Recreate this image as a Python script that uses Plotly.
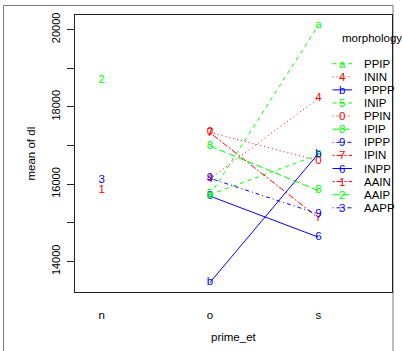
import plotly.graph_objects as go

# ---------------- data ----------------
categories = ["n", "o", "s"]
series_names = ["AAIN", "AAIP", "AAPP", "ININ", "INIP", "INPP",
                "IPIN", "IPIP", "IPPP", "PPIN", "PPIP", "PPPP"]
series_symbols = ["1", "2", "3", "4", "5", "6", "7", "8", "9", "0", "a", "b"]

# mean of dl at n, o, s  (None = no observation)
AAIN = [15852, None, None]
AAIP = [18683, None, None]
AAPP = [16111, None, None]
ININ = [None, 16140, 18218]
INIP = [None, 15730, 16760]
INPP = [None, 15690, 14629]
IPIN = [None, 17330, 15128]
IPIP = [None, 16987, 15833]
IPPP = [None, 16153, 15231]
PPIN = [None, 17341, 16607]
PPIP = [None, 15720, 20111]
PPPP = [None, 13457, 16790]
series_values = [AAIN, AAIP, AAPP, ININ, INIP, INPP,
                 IPIN, IPIP, IPPP, PPIN, PPIP, PPPP]

legend_title = "morphology"
y_ticks = [14000, 16000, 18000, 20000]
y_title = "mean of dl"
x_title = "prime_et"

# ---------------- styles ----------------
palette = ["#FF0000", "#00FF00", "#0000FF"]
# R lty patterns: 1 solid, 2 dashed, 3 dotted, 4 dotdash, 5 longdash, 6 twodash
lty_dash = {1: "solid", 2: "4px,4px", 3: "1px,3px", 4: "1px,3px,4px,3px",
            5: "7px,3px", 6: "2px,2px,6px,2px"}
n_series = len(series_names)
styles = {}
for i, name in enumerate(series_names):
    lty = n_series - i
    lty = (lty - 1) % 6 + 1
    styles[name] = dict(color=palette[i % 3], dash=lty_dash[lty],
                        sym=series_symbols[i])

FONT = "Liberation Sans, Arial, Helvetica, sans-serif"
xpos = [i + 1 for i in range(len(categories))]

fig = go.Figure()
for name, vals in zip(series_names, series_values):
    st = styles[name]
    fig.add_trace(go.Scatter(
        x=xpos, y=vals, mode="lines+text",
        text=[st["sym"]] * len(vals), textposition="middle center",
        textfont=dict(color=st["color"], size=11.5, family=FONT),
        line=dict(color=st["color"], width=1, dash=st["dash"]),
        name=name, showlegend=False, cliponaxis=False, connectgaps=False))

# ---------------- layout geometry ----------------
W, H = 402, 351
L, R, T, B = 75, 10, 15, 59
pw, ph = W - L - R, H - T - B

def px_x(x):
    return (x - L) / pw

def px_y(y):
    return (H - B - y) / ph

# legend (drawn inside the plot box like R's interaction.plot)
legend_order = sorted(
    series_names,
    key=lambda n: (series_values[series_names.index(n)][-1] is None,
                   -(series_values[series_names.index(n)][-1] or 0)))
shapes = []
annotations = []
row0, row_h = 63.7, 13.1
for k, name in enumerate(legend_order):
    st = styles[name]
    yy = px_y(row0 + k * row_h)
    shapes.append(dict(type="line", xref="paper", yref="paper",
                       x0=px_x(332.5), x1=px_x(352), y0=yy, y1=yy,
                       line=dict(color=st["color"], width=1, dash=st["dash"])))
    annotations.append(dict(xref="paper", yref="paper", x=px_x(342.3), y=yy,
                            text=st["sym"], showarrow=False,
                            xanchor="center", yanchor="middle",
                            font=dict(color=st["color"], size=11.5, family=FONT)))
    annotations.append(dict(xref="paper", yref="paper", x=px_x(362), y=yy,
                            text=name, showarrow=False,
                            xanchor="left", yanchor="middle",
                            font=dict(color="black", size=11.5, family=FONT)))
annotations.append(dict(xref="paper", yref="paper", x=px_x(339.5), y=px_y(37.7),
                        text=legend_title, showarrow=False,
                        xanchor="left", yanchor="middle",
                        font=dict(color="black", size=11.5, family=FONT)))
# axis titles
annotations.append(dict(xref="paper", yref="paper", x=px_x(30), y=0.5,
                        text=y_title, textangle=-90, showarrow=False,
                        xanchor="center", yanchor="middle",
                        font=dict(color="black", size=11.5, family=FONT)))
annotations.append(dict(xref="paper", yref="paper", x=0.5, y=px_y(337),
                        text=x_title, showarrow=False,
                        xanchor="center", yanchor="middle",
                        font=dict(color="black", size=11.5, family=FONT)))
# outer frame
shapes.append(dict(type="rect", xref="paper", yref="paper",
                   x0=px_x(3.5), x1=px_x(393), y0=px_y(5.5), y1=px_y(360),
                   line=dict(color="#777777", width=1), layer="below"))

fig.update_layout(
    width=W, height=H, autosize=False,
    margin=dict(l=L, r=R, t=T, b=B, pad=0),
    paper_bgcolor="white", plot_bgcolor="white",
    font=dict(family=FONT, color="black", size=11),
    shapes=shapes, annotations=annotations,
    xaxis=dict(range=[0.7535, 3.68], tickvals=xpos, ticktext=categories,
               ticks="", showgrid=False, zeroline=False,
               showline=True, mirror=True, linecolor="#222222", linewidth=1,
               tickfont=dict(size=11.5, family=FONT, color="black"),
               ticklabelstandoff=12),
    yaxis=dict(range=[13210, 20377], tickvals=y_ticks,
               ticktext=[str(v) for v in y_ticks], tickangle=-90,
               ticks="outside", ticklen=7, tickcolor="#222222", tickwidth=1,
               minor=dict(dtick=1000, tick0=0, ticks="outside", ticklen=7,
                          tickcolor="#222222", tickwidth=1, showgrid=False),
               showgrid=False, zeroline=False,
               showline=True, mirror=True, linecolor="#222222", linewidth=1,
               tickfont=dict(size=11, family=FONT, color="black"),
               ticklabelstandoff=3),
)

fig.write_html("out.html")
